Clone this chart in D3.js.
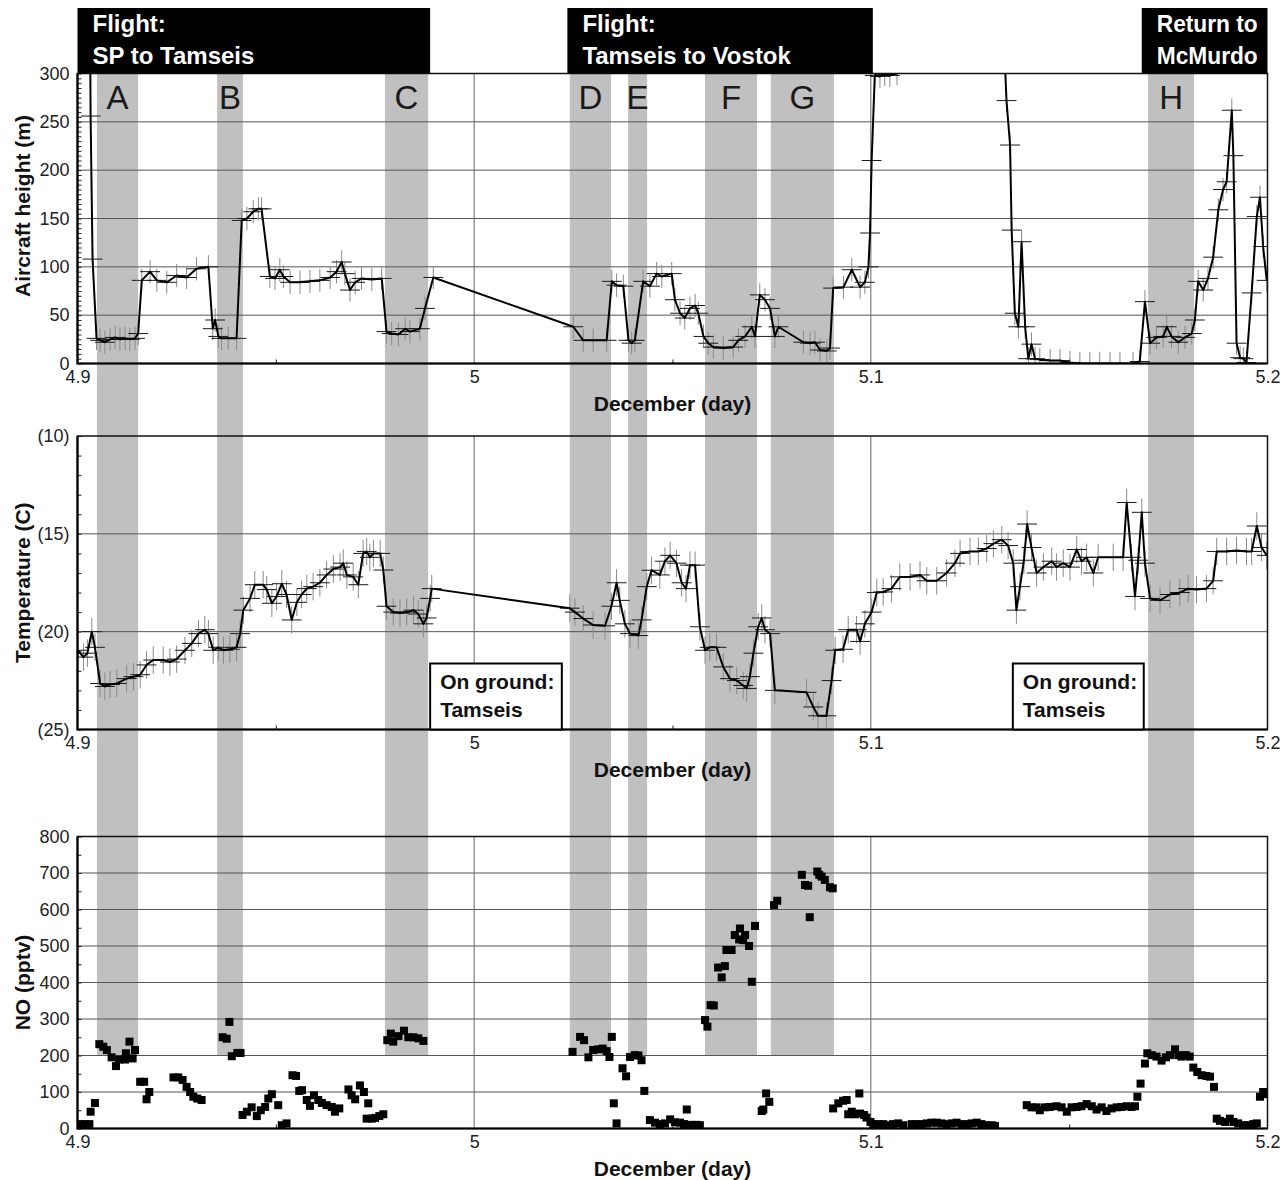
<!DOCTYPE html>
<html>
<head>
<meta charset="utf-8">
<script src="https://cdn.jsdelivr.net/npm/d3@7"></script>
<style>
  html, body { margin: 0; padding: 0; background: #fff; }
  svg { display: block; font-family: "Liberation Sans", Arial, Helvetica, sans-serif; }
</style>
</head>
<body>
<svg id="chart" width="1288" height="1180"></svg>
<script>
// ---------------- data ----------------
const xTickValues = [4.9, 5.0, 5.1, 5.2];
const xMinorTickValues = [4.95, 5.05, 5.15];
const heightTicks = [0, 50, 100, 150, 200, 250, 300];
const tempTicks = [-25, -20, -15, -10];
const noTicks = [0, 100, 200, 300, 400, 500, 600, 700, 800];

// sampling periods (letters) and the NO level where their shading stops
const bandLabels = ["A", "B", "C", "D", "E", "F", "G", "H"];
const bandStart = [4.9049, 4.9352, 4.9775, 5.0241, 5.0388, 5.0582, 5.0748, 5.1699];
const bandEnd   = [4.9153, 4.9417, 4.9884, 5.0345, 5.0436, 5.0713, 5.0907, 5.1815];
const bandFloorNO = 200;

// flight legs (header boxes) and ground stops
const legLines = [["Flight:", "SP to Tamseis"], ["Flight:", "Tamseis to Vostok"], ["Return to", "McMurdo"]];
const legStart = [4.9, 5.0235, 5.1683];
const legEnd   = [4.9889, 5.1005, 5.2];
const groundLines = ["On ground:", "Tamseis"];
const groundStart = [4.9889, 5.1358];
const groundEnd   = [5.0221, 5.1688];

// measurement uncertainty
const dayErr = 0.0025;
const heightErr = 12;
const tempErr = 0.7;

// aircraft height above the snow (m), [December day, m]
const heightSeries = [
  [4.9031, 400], [4.9033, 256], [4.9038, 108], [4.9048, 26], [4.9057, 24], [4.9069, 22], [4.9082, 25],
  [4.9095, 27], [4.9107, 25], [4.9120, 26], [4.9132, 25], [4.9145, 26], [4.9153, 31], [4.9162, 86],
  [4.9183, 95], [4.9200, 86], [4.9225, 84], [4.9250, 91], [4.9275, 89], [4.9300, 98], [4.9330, 100],
  [4.9341, 36], [4.9347, 45], [4.9355, 28], [4.9363, 26], [4.9380, 26], [4.9401, 26], [4.9414, 148],
  [4.9427, 150], [4.9443, 157], [4.9456, 160], [4.9464, 160], [4.9485, 90], [4.9498, 88], [4.9510, 97],
  [4.9519, 90], [4.9536, 84], [4.9561, 84], [4.9586, 85], [4.9611, 86], [4.9637, 89], [4.9653, 95],
  [4.9666, 105], [4.9674, 93], [4.9687, 76], [4.9700, 84], [4.9716, 88], [4.9742, 87], [4.9767, 88],
  [4.9779, 33], [4.9792, 31], [4.9809, 30], [4.9826, 36], [4.9838, 33], [4.9863, 36], [4.9876, 57],
  [4.9897, 89], [5.0250, 38], [5.0275, 24], [5.0300, 24], [5.0334, 24], [5.0347, 85], [5.0359, 81],
  [5.0376, 80], [5.0389, 24], [5.0397, 21], [5.0405, 24], [5.0426, 85], [5.0443, 80], [5.0460, 93],
  [5.0473, 90], [5.0498, 93], [5.0506, 66], [5.0519, 52], [5.0531, 47], [5.0544, 57], [5.0557, 60],
  [5.0565, 52], [5.0578, 28], [5.0590, 21], [5.0603, 17], [5.0628, 16], [5.0653, 17], [5.0666, 24],
  [5.0683, 28], [5.0700, 38], [5.0708, 28], [5.0720, 71], [5.0733, 66], [5.0746, 57], [5.0758, 28],
  [5.0767, 38], [5.0830, 22], [5.0847, 21], [5.0859, 22], [5.0872, 14], [5.0889, 13], [5.0897, 16],
  [5.0905, 78], [5.0931, 79], [5.0952, 97], [5.0973, 79], [5.0985, 84], [5.0994, 100], [5.0998, 135],
  [5.1002, 210], [5.1010, 298], [5.1023, 297], [5.1035, 299], [5.1048, 298], [5.1066, 300], [5.1073, 400],
  [5.1329, 400], [5.1342, 272], [5.1351, 226], [5.1355, 138], [5.1363, 52], [5.1372, 38], [5.1380, 126],
  [5.1389, 38], [5.1397, 5], [5.1405, 20], [5.1414, 5], [5.1426, 4], [5.1452, 3], [5.1477, 3],
  [5.1502, 1], [5.1527, 0], [5.1552, 0], [5.1577, 0], [5.1603, 0], [5.1628, 0], [5.1661, 0],
  [5.1678, 2], [5.1691, 64], [5.1704, 21], [5.1720, 27], [5.1737, 28], [5.1746, 38], [5.1758, 28],
  [5.1775, 22], [5.1792, 27], [5.1809, 31], [5.1817, 45], [5.1825, 85], [5.1838, 76], [5.1850, 88],
  [5.1863, 110], [5.1876, 159], [5.1888, 180], [5.1897, 188], [5.1910, 262], [5.1914, 215], [5.1922, 21],
  [5.1931, 6], [5.1939, 5], [5.1947, 1], [5.1960, 73], [5.1973, 152], [5.1981, 172], [5.1989, 121],
  [5.1998, 86]
];

// air temperature (deg C), [December day, C]
const tempSeries = [
  [4.9001, -20.95], [4.9015, -21.3], [4.9025, -21.1], [4.9036, -20.0], [4.9044, -20.8], [4.9057, -22.65],
  [4.9069, -22.8], [4.9082, -22.7], [4.9099, -22.65], [4.9124, -22.4], [4.9141, -22.3], [4.9158, -22.2],
  [4.9174, -21.7], [4.9191, -21.45], [4.9216, -21.45], [4.9233, -21.55], [4.9250, -21.4], [4.9271, -20.95],
  [4.9288, -20.6], [4.9305, -20.1], [4.9321, -19.9], [4.9330, -20.1], [4.9342, -20.95], [4.9355, -20.8],
  [4.9368, -20.95], [4.9384, -20.9], [4.9401, -20.8], [4.9410, -20.1], [4.9418, -18.9], [4.9435, -18.3],
  [4.9447, -17.6], [4.9468, -17.6], [4.9477, -17.85], [4.9490, -18.55], [4.9502, -18.2], [4.9515, -17.55],
  [4.9527, -18.1], [4.9540, -19.4], [4.9553, -18.5], [4.9565, -18.1], [4.9578, -17.8], [4.9594, -17.7],
  [4.9611, -17.5], [4.9628, -17.1], [4.9645, -16.8], [4.9662, -16.7], [4.9670, -16.5], [4.9679, -17.1],
  [4.9695, -17.2], [4.9708, -17.6], [4.9720, -16.0], [4.9729, -15.9], [4.9737, -16.2], [4.9746, -16.0],
  [4.9763, -16.0], [4.9771, -16.85], [4.9779, -18.7], [4.9796, -19.0], [4.9813, -19.05], [4.9830, -19.0],
  [4.9847, -18.9], [4.9859, -19.1], [4.9872, -19.6], [4.9880, -19.3], [4.9889, -18.3], [4.9893, -17.8],
  [5.0241, -18.8], [5.0254, -19.0], [5.0275, -19.33], [5.0300, -19.66], [5.0330, -19.7], [5.0346, -18.7],
  [5.0359, -17.5], [5.0367, -18.4], [5.0380, -19.6], [5.0393, -20.1], [5.0414, -20.2], [5.0422, -19.4],
  [5.0435, -17.7], [5.0447, -16.86], [5.0468, -17.1], [5.0481, -16.4], [5.0494, -16.1], [5.0510, -16.5],
  [5.0523, -17.5], [5.0534, -17.8], [5.0544, -16.6], [5.0557, -16.6], [5.0569, -19.75], [5.0582, -20.95],
  [5.0594, -20.8], [5.0611, -20.8], [5.0628, -21.8], [5.0645, -22.4], [5.0662, -22.5], [5.0678, -22.75],
  [5.0687, -22.9], [5.0695, -22.3], [5.0704, -21.1], [5.0716, -19.75], [5.0725, -19.3], [5.0733, -19.9],
  [5.0746, -20.1], [5.0758, -23.0], [5.0838, -23.1], [5.0855, -23.85], [5.0867, -24.3], [5.0888, -24.3],
  [5.0901, -22.5], [5.0910, -20.95], [5.0930, -20.9], [5.0943, -19.9], [5.0964, -19.9], [5.0973, -20.5],
  [5.0985, -19.6], [5.1002, -19.0], [5.1015, -18.0], [5.1031, -17.97], [5.1052, -17.8], [5.1073, -17.2],
  [5.1099, -17.2], [5.1124, -17.1], [5.1141, -17.4], [5.1166, -17.4], [5.1191, -17.0], [5.1212, -16.5],
  [5.1225, -16.0], [5.1250, -15.9], [5.1271, -15.9], [5.1292, -15.75], [5.1309, -15.5], [5.1330, -15.3],
  [5.1346, -15.6], [5.1359, -16.5], [5.1367, -18.9], [5.1376, -17.7], [5.1386, -16.35], [5.1394, -14.5],
  [5.1405, -15.7], [5.1418, -17.0], [5.1435, -16.7], [5.1456, -16.4], [5.1468, -16.7], [5.1485, -16.5],
  [5.1502, -16.7], [5.1519, -15.8], [5.1531, -16.4], [5.1544, -16.2], [5.1561, -17.0], [5.1573, -16.2],
  [5.1611, -16.2], [5.1636, -16.2], [5.1645, -13.4], [5.1657, -16.2], [5.1666, -18.2], [5.1674, -16.35],
  [5.1683, -13.9], [5.1691, -16.5], [5.1704, -18.3], [5.1729, -18.4], [5.1754, -18.1], [5.1779, -18.0],
  [5.1800, -17.8], [5.1821, -17.85], [5.1846, -17.8], [5.1863, -17.4], [5.1872, -15.9], [5.1897, -15.9],
  [5.1922, -15.85], [5.1947, -15.9], [5.1960, -15.9], [5.1973, -14.6], [5.1985, -15.7], [5.1998, -16.1]
];

// nitric oxide mixing ratio (pptv), [December day, pptv]
const noSeries = [
  [4.9006, 12], [4.9019, 12], [4.9030, 12], [4.9033, 46], [4.9044, 70], [4.9055, 231], [4.9065, 224],
  [4.9074, 215], [4.9086, 195], [4.9097, 171], [4.9105, 189], [4.9120, 189], [4.9122, 206], [4.9131, 238],
  [4.9139, 192], [4.9145, 215], [4.9158, 128], [4.9168, 128], [4.9174, 80], [4.9181, 100], [4.9242, 140],
  [4.9254, 140], [4.9265, 133], [4.9275, 114], [4.9284, 100], [4.9292, 87], [4.9302, 82], [4.9313, 78],
  [4.9366, 250], [4.9376, 246], [4.9383, 292], [4.9389, 198], [4.9403, 207], [4.9411, 207], [4.9416, 37],
  [4.9427, 46], [4.9439, 58], [4.9452, 34], [4.9462, 50], [4.9473, 59], [4.9481, 82], [4.9490, 94],
  [4.9506, 64], [4.9515, 9], [4.9527, 14], [4.9542, 146], [4.9551, 144], [4.9559, 103], [4.9566, 105],
  [4.9578, 78], [4.9586, 62], [4.9596, 91], [4.9607, 78], [4.9616, 70], [4.9628, 64], [4.9641, 59],
  [4.9649, 46], [4.9660, 55], [4.9683, 107], [4.9691, 91], [4.9700, 80], [4.9712, 118], [4.9722, 100],
  [4.9729, 27], [4.9733, 69], [4.9742, 27], [4.9750, 29], [4.9761, 34], [4.9771, 39], [4.9781, 242],
  [4.9790, 260], [4.9796, 238], [4.9809, 253], [4.9823, 268], [4.9834, 250], [4.9847, 250], [4.9859, 247],
  [4.9872, 240],
  [5.0248, 210], [5.0267, 251], [5.0277, 242], [5.0288, 195], [5.0300, 215], [5.0313, 217], [5.0324, 219],
  [5.0334, 212], [5.0341, 196], [5.0347, 251], [5.0352, 69], [5.0359, 14], [5.0374, 165], [5.0383, 143],
  [5.0393, 196], [5.0405, 201], [5.0414, 200], [5.0422, 187], [5.0429, 103], [5.0443, 23], [5.0456, 16],
  [5.0468, 12], [5.0481, 14], [5.0494, 25], [5.0506, 17], [5.0519, 16], [5.0529, 12], [5.0536, 52],
  [5.0546, 10], [5.0561, 10], [5.0569, 9], [5.0582, 297], [5.0588, 279], [5.0596, 338], [5.0604, 337],
  [5.0615, 441], [5.0624, 414], [5.0632, 445], [5.0636, 489], [5.0649, 489], [5.0657, 530], [5.0668, 518],
  [5.0670, 548], [5.0678, 516], [5.0683, 530], [5.0693, 500], [5.0700, 402], [5.0708, 555], [5.0725, 48],
  [5.0729, 52], [5.0736, 96], [5.0744, 73], [5.0756, 612], [5.0764, 624], [5.0826, 695], [5.0834, 667],
  [5.0842, 665], [5.0846, 579], [5.0865, 704], [5.0870, 695], [5.0876, 690], [5.0884, 681], [5.0897, 661],
  [5.0904, 658], [5.0905, 55], [5.0918, 69], [5.0930, 76], [5.0939, 78], [5.0943, 39], [5.0952, 46],
  [5.0960, 39], [5.0971, 96], [5.0973, 41], [5.0983, 37], [5.0989, 30], [5.0999, 18], [5.1006, 12],
  [5.1010, 9], [5.1019, 12], [5.1031, 12], [5.1044, 9], [5.1056, 12], [5.1069, 14], [5.1082, 9],
  [5.1103, 12], [5.1115, 12], [5.1128, 12], [5.1141, 14], [5.1153, 16], [5.1166, 16], [5.1178, 14],
  [5.1191, 12], [5.1204, 14], [5.1216, 16], [5.1229, 12], [5.1242, 12], [5.1254, 14], [5.1267, 16],
  [5.1279, 12], [5.1292, 9], [5.1305, 9], [5.1313, 7],
  [5.1393, 64], [5.1405, 58], [5.1418, 58], [5.1426, 50], [5.1439, 58], [5.1451, 59], [5.1468, 61],
  [5.1481, 58], [5.1494, 46], [5.1506, 58], [5.1519, 59], [5.1531, 61], [5.1544, 67], [5.1557, 61],
  [5.1569, 52], [5.1582, 58], [5.1594, 48], [5.1607, 55], [5.1620, 58], [5.1632, 59], [5.1645, 61],
  [5.1657, 59], [5.1666, 61], [5.1672, 87], [5.1680, 123], [5.1691, 178], [5.1697, 206], [5.1708, 201],
  [5.1720, 197], [5.1733, 186], [5.1744, 195], [5.1754, 201], [5.1767, 217], [5.1775, 201], [5.1783, 197],
  [5.1794, 201], [5.1804, 197], [5.1813, 167], [5.1823, 155], [5.1834, 146], [5.1846, 144], [5.1855, 142],
  [5.1865, 114], [5.1872, 27], [5.1880, 21], [5.1893, 18], [5.1905, 27], [5.1914, 18], [5.1926, 14],
  [5.1939, 9], [5.1951, 9], [5.1964, 12], [5.1973, 14], [5.1981, 87], [5.1989, 100], [5.1994, 94]
];

// ---------------- layout ----------------
const svg = d3.select("#chart");
const left = 77.5, right = 1267.5;
const x = d3.scaleLinear().domain([4.9, 5.2]).range([left, right]);
const yH = d3.scaleLinear().domain([0, 300]).range([363.5, 73.5]);
const yT = d3.scaleLinear().domain([-25, -10]).range([729.5, 436]);
const yN = d3.scaleLinear().domain([0, 800]).range([1128.5, 836.5]);
const fmtDay = d => String(+d.toFixed(1));

// shaded sampling periods run through all three panels
svg.append("g").attr("class", "bands")
  .selectAll("rect").data(bandLabels).join("rect")
  .attr("x", (d, i) => x(bandStart[i]))
  .attr("width", (d, i) => x(bandEnd[i]) - x(bandStart[i]))
  .attr("y", yH.range()[1])
  .attr("height", yN(bandFloorNO) - yH.range()[1])
  .attr("fill", "#c0c0c0");

let clipId = 0;
function drawPanel(y, opts) {
  const g = svg.append("g");
  const [yb, yt] = y.range();

  // horizontal grid
  g.append("g").selectAll("line").data(opts.grid).join("line")
    .attr("x1", left).attr("x2", right)
    .attr("y1", d => y(d)).attr("y2", d => y(d))
    .attr("stroke", "#555").attr("stroke-width", 1);
  // vertical grid at interior day ticks
  g.append("g").selectAll("line").data(xTickValues.slice(1, -1)).join("line")
    .attr("x1", d => x(d)).attr("x2", d => x(d))
    .attr("y1", yt).attr("y2", yb)
    .attr("stroke", "#666").attr("stroke-width", 1);

  // minor ticks along the left axis (inside)
  g.append("g").attr("transform", `translate(${left},0)`)
    .call(d3.axisRight(y).tickValues(opts.minor).tickSize(4).tickFormat(""))
    .call(s => s.select(".domain").remove())
    .call(s => s.selectAll("line").attr("stroke", "#222"));
  // minor ticks on the day axis (inside)
  g.append("g").attr("transform", `translate(0,${yb})`)
    .call(d3.axisTop(x).tickValues(xMinorTickValues).tickSize(4).tickFormat(""))
    .call(s => s.select(".domain").remove())
    .call(s => s.selectAll("line").attr("stroke", "#222"));

  // y tick labels
  g.append("g").attr("transform", `translate(${left},0)`)
    .call(d3.axisLeft(y).tickValues(opts.ticks).tickSize(0).tickPadding(8).tickFormat(opts.fmt))
    .call(s => s.select(".domain").remove())
    .call(s => s.selectAll("text").attr("font-size", 18).attr("fill", "#222")
      .attr("font-family", "'Liberation Sans', Arial, sans-serif"));
  // x tick labels
  g.append("g").attr("transform", `translate(0,${yb})`)
    .call(d3.axisBottom(x).tickValues(xTickValues).tickSize(0).tickPadding(7).tickFormat(fmtDay))
    .call(s => s.select(".domain").remove())
    .call(s => s.selectAll("text").attr("font-size", 18).attr("fill", "#222")
      .attr("font-family", "'Liberation Sans', Arial, sans-serif"));

  // axis titles
  g.append("text")
    .attr("x", (left + right) / 2).attr("y", yb + 47)
    .attr("text-anchor", "middle").attr("font-size", 21).attr("font-weight", "bold").attr("fill", "#111")
    .text("December (day)");
  g.append("text")
    .attr("transform", `translate(30,${opts.titleY ?? (yb + yt) / 2}) rotate(-90)`)
    .attr("text-anchor", "middle").attr("font-size", 21).attr("font-weight", "bold").attr("fill", "#111")
    .text(opts.title);

  // plotting area clip
  const id = "clip" + (clipId++);
  svg.append("clipPath").attr("id", id)
    .append("rect").attr("x", left).attr("y", yt).attr("width", right - left).attr("height", yb - yt);
  const plot = g.append("g").attr("clip-path", `url(#${id})`);

  // frame
  g.append("rect").attr("x", left).attr("y", yt).attr("width", right - left).attr("height", yb - yt)
    .attr("fill", "none").attr("stroke", "#111").attr("stroke-width", 1.5);
  g.append("path").attr("d", `M${left},${yt}V${yb}H${right}`)
    .attr("fill", "none").attr("stroke", "#000").attr("stroke-width", 2.2);

  return { g, plot };
}

function drawTrace(plot, series, y, yErr) {
  plot.append("g").selectAll("line").data(series).join("line")
    .attr("x1", d => x(d[0])).attr("x2", d => x(d[0]))
    .attr("y1", d => y(d[1] - yErr)).attr("y2", d => y(d[1] + yErr))
    .attr("stroke", "#8a8a8a").attr("stroke-width", 1);
  plot.append("g").selectAll("line").data(series).join("line")
    .attr("x1", d => x(d[0] - dayErr)).attr("x2", d => x(d[0] + dayErr))
    .attr("y1", d => y(d[1])).attr("y2", d => y(d[1]))
    .attr("stroke", "#1a1a1a").attr("stroke-width", 1);
  plot.append("path").datum(series)
    .attr("d", d3.line().x(d => x(d[0])).y(d => y(d[1])))
    .attr("fill", "none").attr("stroke", "#000").attr("stroke-width", 2)
    .attr("stroke-linejoin", "round");
}

// --- panel 1: aircraft height ---
const p1 = drawPanel(yH, {
  grid: heightTicks.slice(1, -1), ticks: heightTicks, minor: d3.range(0, 301, 5),
  fmt: d => d, title: "Aircraft height (m)", titleY: 206
});
drawTrace(p1.plot, heightSeries, yH, heightErr);

// sampling-period letters
p1.g.append("g").selectAll("text").data(bandLabels).join("text")
  .attr("x", (d, i) => x((bandStart[i] + bandEnd[i]) / 2))
  .attr("y", 109)
  .attr("text-anchor", "middle").attr("font-size", 33).attr("fill", "#1a1a1a")
  .text(d => d);

// --- panel 2: temperature ---
const p2 = drawPanel(yT, {
  grid: [-20, -15], ticks: tempTicks, minor: d3.range(-25, -9, 1),
  fmt: d => `(${-d})`, title: "Temperature (C)"
});
drawTrace(p2.plot, tempSeries, yT, tempErr);

// ground-stop notes
const gnd = p2.g.append("g").selectAll("g").data(groundStart).join("g");
gnd.append("rect")
  .attr("x", (d, i) => x(groundStart[i])).attr("y", yT.range()[0] - 66)
  .attr("width", (d, i) => x(groundEnd[i]) - x(groundStart[i])).attr("height", 66)
  .attr("fill", "#fff").attr("stroke", "#000").attr("stroke-width", 2);
groundLines.forEach((line, k) => {
  gnd.append("text")
    .attr("x", (d, i) => x(groundStart[i]) + 10)
    .attr("y", yT.range()[0] - 41 + k * 28)
    .attr("font-size", 21).attr("font-weight", "bold").attr("fill", "#111")
    .text(line);
});

// --- panel 3: NO ---
const p3 = drawPanel(yN, {
  grid: noTicks.slice(1, -1), ticks: noTicks, minor: d3.range(0, 801, 50),
  fmt: d => d, title: "NO (pptv)"
});
p3.plot.append("g").selectAll("rect").data(noSeries).join("rect")
  .attr("x", d => x(d[0]) - 4).attr("y", d => yN(d[1]) - 4)
  .attr("width", 8).attr("height", 8)
  .attr("fill", "#000");

// --- flight-leg headers ---
const legs = svg.append("g").selectAll("g").data(legStart).join("g");
legs.append("rect")
  .attr("x", (d, i) => x(legStart[i])).attr("y", 8)
  .attr("width", (d, i) => x(legEnd[i]) - x(legStart[i])).attr("height", yH.range()[1] - 8)
  .attr("fill", "#000");
[0, 1].forEach(k => {
  legs.append("text")
    .attr("x", (d, i) => x(legStart[i]) + (i === 2 ? 15 : 15))
    .attr("y", 32 + k * 32)
    .attr("font-size", 24).attr("font-weight", "bold").attr("fill", "#fff")
    .each(function (d, i) {
      const t = d3.select(this).text(legLines[i][k]);
      if (i === 2) t.attr("textLength", 101).attr("lengthAdjust", "spacingAndGlyphs");
    });
});
</script>
</body>
</html>
